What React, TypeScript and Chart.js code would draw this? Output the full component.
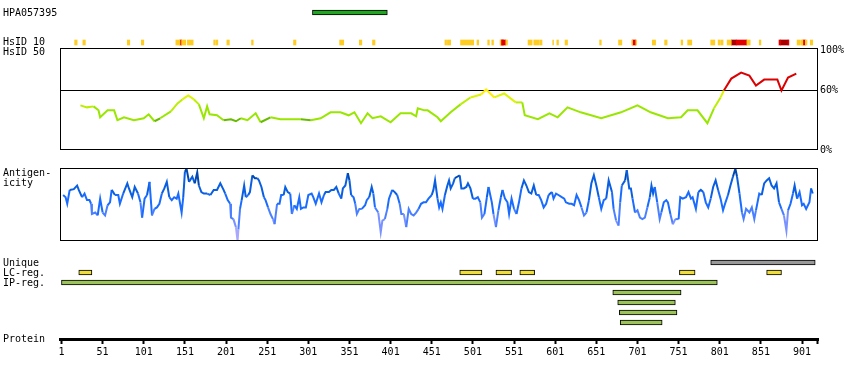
import React, { useEffect, useRef } from 'react';
import { Chart, registerables } from 'chart.js';

Chart.register(...registerables);

const FONT = '"DejaVu Sans Mono", monospace';
const X_MIN = -0.8;
const X_MAX = 920.4;

// ---------- data ----------
const antibodyName = 'HPA057395';
const antigenRange: [number, number] = [306, 397];

const hsid10Yellow: [number, number][] = [
  [17, 20], [27, 30], [81, 84], [98, 101], [140, 145], [147, 152], [154, 161], [186, 188], [189, 191],
  [202, 205], [232, 234], [283, 286], [339, 344], [363, 366], [379, 382], [467, 469], [470, 474],
  [486, 502], [506, 508], [519, 521], [524, 526], [534, 535], [541, 543], [568, 573], [575, 581],
  [582, 585], [598, 599], [603, 605], [613, 616], [655, 657], [678, 682], [694, 695], [699, 700],
  [719, 723], [734, 737], [754, 756], [762, 767], [790, 795], [799, 801], [802, 805], [810, 815],
  [834, 838], [849, 851], [895, 899], [900, 902], [905, 907], [911, 914],
];
const hsid10Red: [number, number][] = [
  [145, 147], [535, 541], [695, 699], [821, 834], [873, 875], [884, 885], [902, 905],
];
const hsid10DarkRed: [number, number][] = [
  [536, 538], [815, 821], [875, 884],
];

const identityResidues = [
  24, 32, 40, 46, 48, 57, 65, 69, 77, 89, 101, 107, 114, 121, 134, 142, 148, 155, 162, 168, 174, 178,
  181, 190, 198, 207, 213, 219, 227, 237, 243, 255, 267, 280, 292, 304, 316, 328, 340, 350, 357, 365,
  373, 379, 389, 401, 413, 426, 432, 434, 442, 446, 458, 462, 474, 486, 498, 511, 517, 527, 539, 553,
  561, 564, 580, 594, 604, 616, 632, 657, 681, 701, 717, 738, 754, 762, 774, 786, 794, 802, 806, 815,
  827, 837, 845, 855, 871, 876, 884, 894,
];
const identityValues = [
  45, 43, 44, 40, 33, 40, 40, 30, 33, 30, 32, 36, 29, 32, 39, 47, 51, 55, 51, 46, 32, 44,
  36, 35, 30, 31, 29, 32, 30, 37, 28, 33, 31, 31, 31, 30, 32, 38, 38, 35, 38, 27,
  37, 32, 34, 28, 37, 37, 34, 42, 40, 40, 33, 29, 38, 46, 53, 56, 61, 53, 57, 48,
  48, 35, 31, 37, 33, 43, 38, 32, 38, 45, 38, 32, 33, 40, 40, 27, 42, 53, 60, 72,
  78, 75, 65, 71, 71, 60, 73, 77,
];

const antigenResidues = [
  3, 6, 8, 11, 16, 20, 22, 26, 29, 32, 35, 37, 38, 42, 45, 48, 51, 54, 57, 60, 62, 66, 70, 72, 76, 81,
  83, 87, 90, 94, 97, 99, 102, 105, 108, 111, 114, 117, 120, 123, 126, 129, 132, 135, 138, 141, 143,
  147, 149, 151, 153, 156, 160, 163, 166, 168, 171, 174, 178, 182, 186, 190, 194, 198, 200, 203, 206,
  207, 210, 213, 215, 216, 218, 220, 223, 225, 228,
  230, 233, 236, 239, 241, 244, 247, 249, 252, 255, 258, 260, 263, 266, 268, 271, 273, 276, 279, 281,
  284, 287, 290, 292, 295, 298, 301, 305, 307, 310, 314, 317, 320, 322, 326, 329, 332, 335, 338, 341,
  343, 346, 349, 351, 353, 356, 358, 360, 363, 366, 370, 372, 375, 378, 380, 382, 386, 389, 391, 394,
  397, 399, 403, 406, 409, 412, 414, 417, 420, 423, 426, 429, 432, 435, 438, 441, 444, 447, 451, 453,
  455, 458, 460,
  462, 464, 467, 470, 472, 474, 477, 479, 482, 485, 487, 490, 493, 495, 498, 501, 504, 507, 510, 512,
  515, 518, 520, 524, 526, 529, 532, 535, 537, 540, 543, 545, 548, 551, 554, 557, 560, 563, 566, 569,
  572, 575, 578, 581, 584, 587, 590, 593, 597, 599, 602, 605, 609, 612, 614, 618, 621, 624, 627, 630,
  633, 636, 639, 642, 645, 648, 651, 654, 657, 660, 663, 666, 670, 672, 675, 678, 680, 682, 686, 688,
  691,
  693, 695, 698, 701, 704, 707, 710, 713, 716, 718, 720, 722, 725, 728, 730, 733, 736, 738, 741, 744,
  747, 751, 753, 756, 760, 763, 766, 768, 772, 775, 778, 781, 784, 787, 790, 793, 796, 799, 802, 805,
  808, 811, 814, 817, 820, 822, 825, 828, 830, 833, 837, 840, 843, 845, 849, 852, 855, 858, 861, 864,
  867, 870, 873, 876, 879, 882, 884, 887, 890, 892, 895, 898, 901, 903, 906, 910, 912, 914,
];
const antigenValues = [
  63, 60, 51, 70, 71, 76, 70, 60, 65, 56, 56, 51, 37, 39, 35, 58, 39, 35, 49, 53, 70, 63, 63, 51, 65, 79,
  72, 60, 74, 65, 53, 32, 58, 63, 81, 35, 44, 46, 51, 65, 72, 81, 60, 56, 60, 58, 65,
  39, 60, 95, 99, 81, 88, 79, 94, 76, 67, 65, 65, 63, 70, 70, 79, 70, 65, 56, 51,
  32, 30, 19, 0, 16, 44, 56, 76, 60, 63,
  67, 90, 86, 86, 83, 74, 60, 56, 46, 37, 30, 23, 51, 51, 63, 63, 74, 67, 65, 37,
  49, 44, 60, 44, 46, 46, 63, 65, 60, 51, 65, 53, 63, 67, 67, 70, 70, 74, 65, 58,
  72, 76, 93, 83, 63, 60, 51, 37, 44, 44, 49, 56, 60, 74, 65, 46, 39, 12, 28, 30,
  44, 58, 70, 67, 63, 51, 37, 37, 19, 44, 37, 35, 39, 44, 51, 53, 53, 58, 63, 70,
  83, 58, 46,
  53, 44, 63, 76, 83, 72, 79, 86, 88, 90, 72, 72, 74, 79, 72, 58, 58, 60, 53, 32,
  37, 60, 74, 53, 37, 19, 42, 60, 70, 58, 53, 37, 58, 44, 37, 53, 72, 83, 76, 67,
  65, 76, 63, 63, 56, 46, 51, 63, 67, 58, 65, 63, 60, 58, 53, 51, 51, 49, 63, 56,
  46, 35, 39, 56, 79, 90, 76, 60, 44, 56, 58, 83, 67, 44, 28, 21, 53, 76, 83, 97,
  72,
  72, 58, 39, 42, 32, 30, 32, 46, 60, 76, 65, 74, 53, 30, 39, 53, 56, 53, 37, 23,
  30, 30, 60, 58, 60, 67, 58, 60, 44, 67, 70, 67, 53, 46, 58, 74, 83, 70, 58, 42,
  53, 63, 76, 88, 99, 88, 65, 39, 30, 44, 39, 46, 30, 42, 65, 63, 79, 83, 86, 76,
  72, 79, 53, 44, 35, 14, 42, 51, 65, 76, 58, 67, 49, 51, 44, 53, 72, 65,
];

const uniqueRegions: [number, number][] = [[790, 917]];
const lcRegions: [number, number][] = [[22, 38], [485, 512], [529, 548], [558, 576], [752, 771], [858, 876]];
const ipRegions: [number, number][] = [[1, 798], [671, 754], [677, 747], [679, 749], [680, 731]];

const proteinTicks = [1, 51, 101, 151, 201, 251, 301, 351, 401, 451, 501, 551, 601, 651, 701, 751, 801, 851, 901];
const proteinEnd = 920;
const identityTicks = [0, 60, 100];

// ---------- styling helpers ----------
function identityColor(v: number): string {
  if (v >= 62) return '#dd0000';
  if (v >= 57) return '#ffee00';
  if (v >= 50) return '#ddf500';
  if (v >= 43) return '#bbee00';
  if (v >= 31) return '#99e600';
  return '#66bb00';
}
function antigenColor(v: number): string {
  if (v >= 85) return '#0048b0';
  if (v >= 65) return '#0a5fe0';
  if (v >= 45) return '#1a6cff';
  if (v >= 30) return '#4a80ff';
  if (v >= 15) return '#7a92ff';
  return '#a8a8ff';
}

const boxPlugin = {
  id: 'box',
  afterDraw(chart: any) {
    const { ctx, chartArea: a } = chart;
    ctx.save();
    ctx.strokeStyle = '#000';
    ctx.lineWidth = 1;
    ctx.strokeRect(a.left + 0.5, a.top + 0.5, a.width - 1, a.height - 1);
    ctx.restore();
  },
};

const hiddenX = { type: 'linear', min: X_MIN, max: X_MAX, display: false, offset: false };
const noPlugins = { legend: { display: false }, tooltip: { enabled: false } };

function topConfig(): any {
  return {
    type: 'bar',
    data: {
      datasets: [
        { data: [{ x: antigenRange, y: 0 }], backgroundColor: '#22a522', borderColor: '#000', borderWidth: 1, barThickness: 5 },
        { data: hsid10Yellow.map((r) => ({ x: r, y: 3 })), backgroundColor: '#ffcc22', borderWidth: 0, barThickness: 5 },
        { data: hsid10Red.map((r) => ({ x: r, y: 3 })), backgroundColor: '#e00000', borderWidth: 0, barThickness: 5 },
        { data: hsid10DarkRed.map((r) => ({ x: r, y: 3 })), backgroundColor: '#aa0000', borderWidth: 0, barThickness: 5 },
      ],
    },
    options: {
      indexAxis: 'y',
      responsive: false,
      animation: false,
      datasets: { bar: { grouped: false, borderSkipped: false } },
      layout: { padding: { left: 60, right: 32, top: 0, bottom: 0 } },
      plugins: noPlugins,
      scales: {
        x: hiddenX,
        y: { type: 'linear', reverse: true, min: -1.25, max: 3.55, display: false, offset: false, grid: { offset: false } },
      },
    },
  };
}

function identityConfig(): any {
  return {
    type: 'line',
    data: {
      datasets: [
        {
          data: identityResidues.map((r, i) => ({ x: r, y: identityValues[i] })),
          borderWidth: 2,
          pointRadius: 0,
          borderColor: '#99e600',
          segment: { borderColor: (c: any) => identityColor((c.p0.parsed.y + c.p1.parsed.y) / 2) },
        },
      ],
    },
    options: {
      responsive: false,
      animation: false,
      layout: { padding: { left: 60, right: 0, top: 8, bottom: 10 } },
      plugins: noPlugins,
      scales: {
        x: hiddenX,
        y: {
          type: 'linear',
          position: 'right',
          min: 0,
          max: 102.86,
          afterBuildTicks: (s: any) => { s.ticks = identityTicks.map((v) => ({ value: v })); },
          afterFit: (s: any) => { s.width = 32; },
          ticks: { callback: (v: any) => v + '%', padding: 2, color: '#000', font: { family: FONT, size: 10 } },
          grid: { drawTicks: false, color: (c: any) => (c.tick && c.tick.value === 60 ? '#000' : 'rgba(0,0,0,0)') },
          border: { display: false },
        },
      },
    },
    plugins: [boxPlugin],
  };
}

function antigenConfig(): any {
  return {
    type: 'line',
    data: {
      datasets: [
        {
          data: antigenResidues.map((r, i) => ({ x: r, y: antigenValues[i] })),
          borderWidth: 2,
          pointRadius: 0,
          borderColor: '#1a6cff',
          segment: { borderColor: (c: any) => antigenColor((c.p0.parsed.y + c.p1.parsed.y) / 2) },
        },
      ],
    },
    options: {
      responsive: false,
      animation: false,
      layout: { padding: { left: 60, right: 32, top: 0, bottom: 0 } },
      plugins: noPlugins,
      scales: {
        x: hiddenX,
        y: { type: 'linear', min: 0, max: 100, display: false },
      },
    },
    plugins: [boxPlugin],
  };
}

function tracksConfig(): any {
  return {
    type: 'bar',
    data: {
      datasets: [
        { data: uniqueRegions.map((r) => ({ x: r, y: 0 })), backgroundColor: '#999999' },
        { data: lcRegions.map((r) => ({ x: r, y: 1 })), backgroundColor: '#eedd3a' },
        { data: ipRegions.map((r, i) => ({ x: r, y: 2 + i })), backgroundColor: '#9cc35a' },
      ],
    },
    options: {
      indexAxis: 'y',
      responsive: false,
      animation: false,
      datasets: { bar: { grouped: false, barThickness: 5, borderWidth: 1, borderColor: '#000', borderSkipped: false } },
      layout: { padding: { left: 60, right: 32, top: 0, bottom: 0 } },
      plugins: noPlugins,
      scales: {
        x: {
          type: 'linear',
          min: X_MIN,
          max: X_MAX,
          offset: false,
          position: 'bottom',
          afterBuildTicks: (s: any) => { s.ticks = [...proteinTicks, proteinEnd].map((v) => ({ value: v })); },
          afterFit: (s: any) => { s.height = 30; },
          ticks: {
            autoSkip: false,
            maxRotation: 0,
            padding: 2,
            color: '#000',
            font: { family: FONT, size: 10 },
            callback: (v: any) => (v === proteinEnd ? '' : String(v)),
          },
          grid: { drawOnChartArea: false, drawTicks: true, tickLength: 5, tickWidth: 2, tickColor: '#000', color: '#000' },
          border: { display: true, width: 3, color: '#000' },
        },
        y: { type: 'linear', reverse: true, min: -1.05, max: 7.65, display: false, offset: false, grid: { offset: false } },
      },
    },
  };
}

function ChartCanvas({ top, height, build }: { top: number; height: number; build: () => any }) {
  const ref = useRef<HTMLCanvasElement>(null);
  useEffect(() => {
    const chart = new Chart(ref.current as HTMLCanvasElement, build());
    return () => chart.destroy();
  }, []);
  return (
    <canvas
      ref={ref}
      width={850}
      height={height}
      style={{ position: 'absolute', left: 0, top, width: 850, height, display: 'block' }}
    />
  );
}

const labelStyle = (top: number): React.CSSProperties => ({ position: 'absolute', left: 3, top, whiteSpace: 'pre' });

export default function App() {
  return (
    <div
      style={{
        position: 'fixed', left: 0, top: 0, width: 850, height: 380, background: '#fff', overflow: 'hidden',
        fontFamily: FONT, fontSize: 10, lineHeight: '10px', color: '#000',
      }}
    >
      <ChartCanvas top={0} height={48} build={topConfig} />
      <ChartCanvas top={40} height={120} build={identityConfig} />
      <ChartCanvas top={168} height={73} build={antigenConfig} />
      <ChartCanvas top={252} height={117} build={tracksConfig} />
      <div style={labelStyle(8)}>{antibodyName}</div>
      <div style={labelStyle(37)}>HsID 10</div>
      <div style={labelStyle(47)}>HsID 50</div>
      <div style={labelStyle(168)}>Antigen-</div>
      <div style={labelStyle(178)}>icity</div>
      <div style={labelStyle(258)}>Unique</div>
      <div style={labelStyle(268)}>LC-reg.</div>
      <div style={labelStyle(278)}>IP-reg.</div>
      <div style={labelStyle(334)}>Protein</div>
    </div>
  );
}
